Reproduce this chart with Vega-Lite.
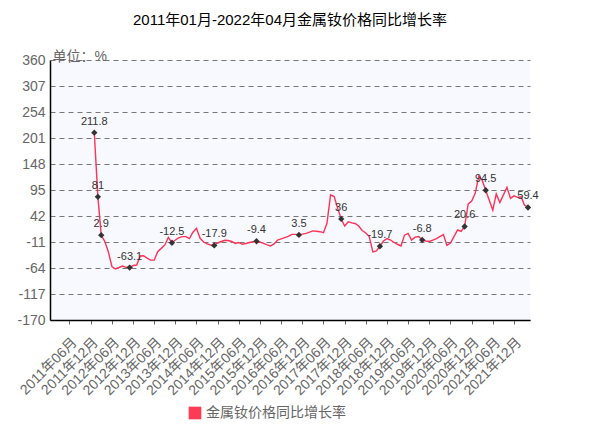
{
  "$schema": "https://vega.github.io/schema/vega-lite/v6.json",
  "width": 480,
  "height": 260,
  "autosize": "none",
  "padding": {"left": 50, "top": 60, "right": 80, "bottom": 116},
  "background": "#ffffff",
  "title": {"text": "2011年01月-2022年04月金属钕价格同比增长率", "fontSize": 15, "fontWeight": "normal", "color": "#000000", "font": "Liberation Sans, Noto Sans CJK SC", "frame": "group", "offset": 21},
  "config": {
    "view": {"fill": "#F8F9FF", "stroke": null},
    "font": "Liberation Sans, Noto Sans CJK SC",
    "locale": {"number": {"decimal": ".", "thousands": ",", "grouping": [3], "currency": ["$", ""], "minus": "-"}}
  },
  "data": {"values": [
    {"date": "2012-01-01", "value": 211.8, "label": true},
    {"date": "2012-02-01", "value": 81, "label": true},
    {"date": "2012-03-01", "value": 2.9, "label": true},
    {"date": "2012-04-01", "value": -10},
    {"date": "2012-05-01", "value": -30.7},
    {"date": "2012-06-01", "value": -61},
    {"date": "2012-07-01", "value": -66},
    {"date": "2012-08-01", "value": -63},
    {"date": "2012-09-01", "value": -60},
    {"date": "2012-10-01", "value": -62.6},
    {"date": "2012-11-01", "value": -63.1, "label": true},
    {"date": "2012-12-01", "value": -59},
    {"date": "2013-01-01", "value": -58},
    {"date": "2013-02-01", "value": -39.6},
    {"date": "2013-03-01", "value": -39},
    {"date": "2013-04-01", "value": -44},
    {"date": "2013-05-01", "value": -48},
    {"date": "2013-06-01", "value": -48},
    {"date": "2013-07-01", "value": -30.7},
    {"date": "2013-08-01", "value": -24},
    {"date": "2013-09-01", "value": -17},
    {"date": "2013-10-01", "value": -1.5},
    {"date": "2013-11-01", "value": -12.5, "label": true},
    {"date": "2013-12-01", "value": -7},
    {"date": "2014-01-01", "value": -2},
    {"date": "2014-02-01", "value": 0},
    {"date": "2014-03-01", "value": 0},
    {"date": "2014-04-01", "value": -4},
    {"date": "2014-05-01", "value": 9},
    {"date": "2014-06-01", "value": 17},
    {"date": "2014-07-01", "value": -3},
    {"date": "2014-08-01", "value": -11},
    {"date": "2014-09-01", "value": -15},
    {"date": "2014-10-01", "value": -17},
    {"date": "2014-11-01", "value": -17.9, "label": true},
    {"date": "2014-12-01", "value": -13},
    {"date": "2015-01-01", "value": -10},
    {"date": "2015-02-01", "value": -7.5},
    {"date": "2015-03-01", "value": -8},
    {"date": "2015-04-01", "value": -10},
    {"date": "2015-05-01", "value": -14},
    {"date": "2015-06-01", "value": -12},
    {"date": "2015-07-01", "value": -15.6},
    {"date": "2015-08-01", "value": -14},
    {"date": "2015-09-01", "value": -12},
    {"date": "2015-10-01", "value": -10.6},
    {"date": "2015-11-01", "value": -9.4, "label": true},
    {"date": "2015-12-01", "value": -11},
    {"date": "2016-01-01", "value": -14},
    {"date": "2016-02-01", "value": -17},
    {"date": "2016-03-01", "value": -19},
    {"date": "2016-04-01", "value": -15},
    {"date": "2016-05-01", "value": -7},
    {"date": "2016-06-01", "value": -4.5},
    {"date": "2016-07-01", "value": -2},
    {"date": "2016-08-01", "value": 0.3},
    {"date": "2016-09-01", "value": 4.6},
    {"date": "2016-10-01", "value": 4.5},
    {"date": "2016-11-01", "value": 3.5, "label": true},
    {"date": "2016-12-01", "value": 5},
    {"date": "2017-01-01", "value": 6.7},
    {"date": "2017-02-01", "value": 9},
    {"date": "2017-03-01", "value": 11.6},
    {"date": "2017-04-01", "value": 11},
    {"date": "2017-05-01", "value": 10},
    {"date": "2017-06-01", "value": 8},
    {"date": "2017-07-01", "value": 27},
    {"date": "2017-08-01", "value": 85},
    {"date": "2017-09-01", "value": 81.5},
    {"date": "2017-10-01", "value": 58},
    {"date": "2017-11-01", "value": 36, "label": true},
    {"date": "2017-12-01", "value": 21.6},
    {"date": "2018-01-01", "value": 30},
    {"date": "2018-02-01", "value": 28},
    {"date": "2018-03-01", "value": 26.7},
    {"date": "2018-04-01", "value": 21.6},
    {"date": "2018-05-01", "value": 12.5},
    {"date": "2018-06-01", "value": 7.5},
    {"date": "2018-07-01", "value": 0},
    {"date": "2018-08-01", "value": -31},
    {"date": "2018-09-01", "value": -29},
    {"date": "2018-10-01", "value": -19.7, "label": true},
    {"date": "2018-11-01", "value": -9},
    {"date": "2018-12-01", "value": -4},
    {"date": "2019-01-01", "value": -7},
    {"date": "2019-02-01", "value": -12},
    {"date": "2019-03-01", "value": -15.6},
    {"date": "2019-04-01", "value": -19},
    {"date": "2019-05-01", "value": 3},
    {"date": "2019-06-01", "value": 6.7},
    {"date": "2019-07-01", "value": -7},
    {"date": "2019-08-01", "value": -1},
    {"date": "2019-09-01", "value": 0},
    {"date": "2019-10-01", "value": -6.8, "label": true},
    {"date": "2019-11-01", "value": -9},
    {"date": "2019-12-01", "value": -10},
    {"date": "2020-01-01", "value": -7},
    {"date": "2020-02-01", "value": -4},
    {"date": "2020-03-01", "value": 0},
    {"date": "2020-04-01", "value": 4},
    {"date": "2020-05-01", "value": -18},
    {"date": "2020-06-01", "value": -13},
    {"date": "2020-07-01", "value": 0},
    {"date": "2020-08-01", "value": 13.5},
    {"date": "2020-09-01", "value": 10.5},
    {"date": "2020-10-01", "value": 20.6, "label": true},
    {"date": "2020-11-01", "value": 66.5},
    {"date": "2020-12-01", "value": 72.6},
    {"date": "2021-01-01", "value": 89},
    {"date": "2021-02-01", "value": 123.6},
    {"date": "2021-03-01", "value": 115},
    {"date": "2021-04-01", "value": 94.5, "label": true},
    {"date": "2021-05-01", "value": 74.6},
    {"date": "2021-06-01", "value": 54},
    {"date": "2021-07-01", "value": 87},
    {"date": "2021-08-01", "value": 69.5},
    {"date": "2021-09-01", "value": 85},
    {"date": "2021-10-01", "value": 100.5},
    {"date": "2021-11-01", "value": 78},
    {"date": "2021-12-01", "value": 83},
    {"date": "2022-01-01", "value": 80},
    {"date": "2022-02-01", "value": 81},
    {"date": "2022-03-01", "value": 64.4},
    {"date": "2022-04-01", "value": 59.4, "label": true}
  ]},
  "encoding": {
    "x": {
      "field": "date", "type": "temporal",
      "scale": {"type": "utc", "domain": [{"year": 2011, "month": 1, "date": 1, "utc": true}, {"year": 2022, "month": 4, "date": 1, "utc": true}], "nice": false, "padding": 2},
      "axis": {
        "title": null,
        "values": [
          {"year": 2011, "month": 6, "date": 1, "utc": true}, {"year": 2011, "month": 12, "date": 1, "utc": true},
          {"year": 2012, "month": 6, "date": 1, "utc": true}, {"year": 2012, "month": 12, "date": 1, "utc": true},
          {"year": 2013, "month": 6, "date": 1, "utc": true}, {"year": 2013, "month": 12, "date": 1, "utc": true},
          {"year": 2014, "month": 6, "date": 1, "utc": true}, {"year": 2014, "month": 12, "date": 1, "utc": true},
          {"year": 2015, "month": 6, "date": 1, "utc": true}, {"year": 2015, "month": 12, "date": 1, "utc": true},
          {"year": 2016, "month": 6, "date": 1, "utc": true}, {"year": 2016, "month": 12, "date": 1, "utc": true},
          {"year": 2017, "month": 6, "date": 1, "utc": true}, {"year": 2017, "month": 12, "date": 1, "utc": true},
          {"year": 2018, "month": 6, "date": 1, "utc": true}, {"year": 2018, "month": 12, "date": 1, "utc": true},
          {"year": 2019, "month": 6, "date": 1, "utc": true}, {"year": 2019, "month": 12, "date": 1, "utc": true},
          {"year": 2020, "month": 6, "date": 1, "utc": true}, {"year": 2020, "month": 12, "date": 1, "utc": true},
          {"year": 2021, "month": 6, "date": 1, "utc": true}, {"year": 2021, "month": 12, "date": 1, "utc": true}
        ],
        "format": "%Y年%m月",
        "labelAngle": -45,
        "labelAlign": "right",
        "labelBaseline": "top",
        "labelFontSize": 14,
        "labelColor": "#666666",
        "labelPadding": 11,
        "labelOverlap": false,
        "labelFlush": false,
        "grid": false,
        "domainColor": "#000000",
        "domainWidth": 1.5,
        "tickColor": "#666666",
        "tickSize": 4
      }
    },
    "y": {
      "field": "value", "type": "quantitative",
      "scale": {"domain": [-170, 360], "nice": false, "zero": false},
      "axis": {
        "title": "单位：%",
        "titleAngle": 0,
        "titleAlign": "left",
        "titleBaseline": "middle",
        "titleX": 2,
        "titleY": -4,
        "titleFontSize": 14,
        "titleFontWeight": "normal",
        "titleColor": "#666666",
        "values": [360, 307, 254, 201, 148, 95, 42, -11, -64, -117, -170],
        "labelFontSize": 14,
        "labelColor": "#666666",
        "labelPadding": 5,
        "ticks": false,
        "domainColor": "#000000",
        "domainWidth": 1.5,
        "grid": true,
        "gridColor": "#777777",
        "gridDash": [5, 4],
        "gridWidth": 1
      }
    }
  },
  "layer": [
    {
      "mark": {"type": "line", "strokeWidth": 1.4, "interpolate": "linear"},
      "encoding": {
        "color": {
          "datum": "金属钕价格同比增长率",
          "type": "nominal",
          "scale": {"range": ["#FF3355"]},
          "legend": {
            "title": null,
            "orient": "none",
            "legendX": 138,
            "legendY": 346,
            "symbolType": "square",
            "symbolSize": 160,
            "symbolFillColor": "#FF3A55",
            "symbolStrokeColor": "#FF3A55",
            "symbolStrokeWidth": 0,
            "labelFontSize": 14,
            "labelColor": "#666666",
            "labelOffset": 4
          }
        }
      }
    },
    {
      "transform": [{"filter": "datum.label === true"}],
      "mark": {"type": "point", "filled": true, "shape": "diamond", "size": 40, "color": "#333333", "opacity": 1}
    },
    {
      "transform": [{"filter": "datum.label === true"}],
      "mark": {"type": "text", "dy": -11, "fontSize": 11, "color": "#333333"},
      "encoding": {"text": {"field": "value", "type": "quantitative"}}
    }
  ]
}
